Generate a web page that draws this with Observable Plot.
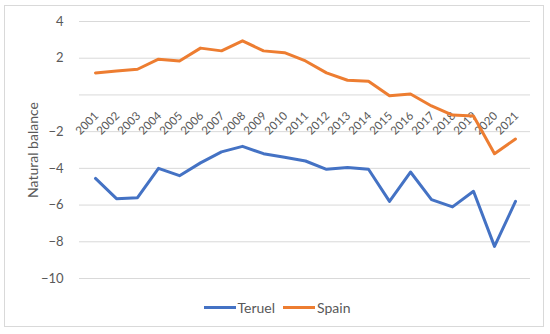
<!DOCTYPE html>
<html>
<head>
<meta charset="utf-8">
<script src="https://cdn.jsdelivr.net/npm/d3@7"></script>
<script src="https://cdn.jsdelivr.net/npm/@observablehq/plot@0.6"></script>
<style>
  html, body { margin: 0; padding: 0; background: #fff; }
  #wrap { position: relative; width: 550px; height: 334px; overflow: hidden; font-family: Lato, "Open Sans", sans-serif; }
  #frame { position: absolute; left: 4px; top: 5px; width: 540px; height: 322px; border: 1px solid #d9d9d9; box-sizing: border-box; }
  #chart { position: absolute; left: 0; top: 0; }
  #legend { position: absolute; left: 0; top: 299px; width: 550px; display: flex; justify-content: center; gap: 4px; font-size: 14px; color: #595959; padding-left: 4px; box-sizing: border-box; }
  .item { display: flex; align-items: center; margin: 0 2px; }
  .sw { width: 32px; height: 3px; margin-right: 2px; }
</style>
</head>
<body>
<div id="wrap">
  <div id="frame"></div>
  <div id="chart"></div>
  <div id="legend"></div>
</div>
<script>
const years = [2001,2002,2003,2004,2005,2006,2007,2008,2009,2010,2011,2012,2013,2014,2015,2016,2017,2018,2019,2020,2021];
const teruel = [-4.55,-5.65,-5.6,-4.0,-4.4,-3.7,-3.1,-2.8,-3.2,-3.4,-3.6,-4.05,-3.95,-4.05,-5.8,-4.2,-5.7,-6.1,-5.25,-8.25,-5.8];
const spain = [1.2,1.3,1.4,1.95,1.85,2.55,2.4,2.95,2.4,2.3,1.85,1.2,0.8,0.75,-0.05,0.05,-0.6,-1.1,-1.15,-3.2,-2.4];
const seriesNames = ["Teruel", "Spain"];
const seriesColors = ["#4472C4", "#ED7D31"];
const yTicks = [-10,-8,-6,-4,-2,0,2,4];
const yLabelTicks = [-10,-8,-6,-4,-2,2,4];
const yLabel = "Natural balance";

const data = [];
years.forEach((y, i) => {
  data.push({year: String(y), series: "Teruel", value: teruel[i]});
  data.push({year: String(y), series: "Spain", value: spain[i]});
});

const fmt = d => d < 0 ? "\u2212" + Math.abs(d) : String(d);

const chart = Plot.plot({
  width: 550,
  height: 290,
  marginLeft: 79,
  marginRight: 20,
  marginTop: 21,
  marginBottom: 12,
  style: {fontFamily: "Lato, 'Open Sans', sans-serif", fontSize: "13px", color: "#595959", background: "transparent"},
  x: {type: "point", domain: years.map(String), padding: 0.5, axis: null},
  y: {domain: [-10, 4], axis: null},
  color: {domain: seriesNames, range: seriesColors},
  marks: [
    Plot.ruleY(yTicks, {stroke: "#d9d9d9", strokeWidth: 1}),
    Plot.axisY({ticks: yLabelTicks, tickSize: 0, tickPadding: 16, label: null, fontSize: 13, tickFormat: fmt}),
    Plot.text([yLabel], {frameAnchor: "left", textAnchor: "middle", rotate: -90, dx: -46, fontSize: 14, fill: "#595959"}),
    Plot.text(years.map(String), {x: d => d, y: () => 0, text: d => d, rotate: -45, textAnchor: "end", dx: 1, dy: 19, fontSize: 11.5, fill: "#595959"}),
    Plot.line(data, {x: "year", y: "value", z: "series", stroke: "series", strokeWidth: 3, strokeLinejoin: "round", strokeLinecap: "round"})
  ]
});
document.getElementById("chart").appendChild(chart);

const legend = document.getElementById("legend");
seriesNames.forEach((n, i) => {
  const it = document.createElement("div");
  it.className = "item";
  const sw = document.createElement("span");
  sw.className = "sw";
  sw.style.background = seriesColors[i];
  const t = document.createElement("span");
  t.textContent = n;
  it.appendChild(sw); it.appendChild(t);
  legend.appendChild(it);
});
</script>
</body>
</html>
